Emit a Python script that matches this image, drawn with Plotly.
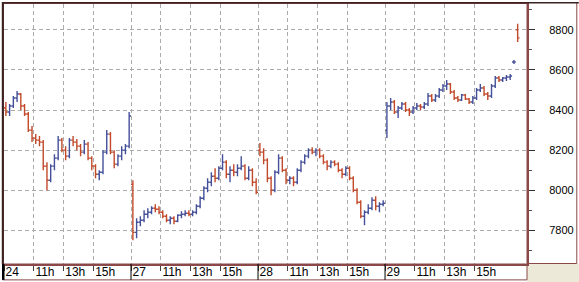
import plotly.graph_objects as go

# ---------------- data (15-minute bars, sessions start 9:00) ----------------
day_labels = ["24", "27", "28", "29"]
hour_labels = ["11h", "13h", "15h"]
bars_in_day = [34, 34, 34, 36]
session_hours = 8.5
bar_hours = 0.25

opens = [
    # 24
    8410, 8390, 8420, 8460, 8480, 8420, 8380, 8300, 8260, 8250, 8240, 8120, 8050, 8120, 8160, 8250, 8200,
    8170, 8250, 8240, 8220, 8190, 8230, 8160, 8120, 8080, 8090, 8190, 8280, 8190, 8130, 8170, 8200, 8220,
    # 27
    8030, 7790, 7840, 7850, 7880, 7890, 7910, 7905, 7890, 7870, 7850, 7860, 7845, 7875, 7880, 7885, 7880,
    7890, 7920, 7960, 8010, 8040, 8070, 8060, 8110, 8140, 8080, 8100, 8090, 8110, 8120, 8060, 8100, 8040,
    # 28
    8200, 8190, 8150, 8060, 8000, 8090, 8160, 8100, 8050, 8060, 8040, 8100, 8140, 8170, 8200, 8190, 8200,
    8170, 8140, 8120, 8140, 8130, 8100, 8080, 8110, 8060, 8000, 7940, 7870, 7890, 7910, 7950, 7920, 7930,
    # 29
    8300, 8420, 8440, 8390, 8410, 8430, 8400, 8390, 8410, 8420, 8415, 8430, 8470, 8450, 8470, 8500, 8520,
    8530, 8490, 8460, 8450, 8475, 8455, 8440, 8460, 8500, 8510, 8480, 8470, 8520, 8560, 8550, 8560, 8565,
    8640, 8800,
]
highs = [
    8440, 8430, 8470, 8495, 8485, 8430, 8390, 8320, 8280, 8270, 8250, 8140, 8130, 8180, 8270, 8260, 8220,
    8260, 8270, 8255, 8230, 8250, 8240, 8170, 8130, 8100, 8200, 8300, 8290, 8200, 8180, 8220, 8230, 8390,
    8050, 7860, 7870, 7900, 7910, 7920, 7930, 7920, 7900, 7880, 7870, 7870, 7880, 7895, 7900, 7900, 7900,
    7930, 7970, 8020, 8060, 8090, 8110, 8120, 8180, 8150, 8120, 8130, 8130, 8170, 8130, 8120, 8110, 8060,
    8235, 8210, 8160, 8070, 8100, 8180, 8170, 8110, 8070, 8070, 8110, 8150, 8180, 8210, 8215, 8210, 8210,
    8180, 8150, 8150, 8150, 8140, 8110, 8120, 8120, 8070, 8010, 7950, 7900, 7930, 7965, 7970, 7940, 7950,
    8440, 8460, 8450, 8420, 8440, 8440, 8410, 8420, 8435, 8430, 8440, 8485, 8480, 8480, 8510, 8530, 8550,
    8535, 8500, 8470, 8480, 8480, 8460, 8470, 8510, 8530, 8520, 8490, 8530, 8570, 8570, 8565, 8575, 8580,
    8650, 8830,
]
lows = [
    8370, 8370, 8410, 8440, 8400, 8370, 8290, 8240, 8230, 8220, 8100, 8000, 8040, 8100, 8150, 8190, 8150,
    8160, 8220, 8200, 8170, 8180, 8150, 8100, 8060, 8050, 8080, 8180, 8180, 8110, 8120, 8150, 8180, 8210,
    7750, 7760, 7820, 7840, 7860, 7880, 7890, 7880, 7860, 7840, 7830, 7830, 7840, 7860, 7870, 7870, 7870,
    7880, 7910, 7950, 7990, 8020, 8040, 8050, 8100, 8060, 8040, 8070, 8070, 8100, 8050, 8050, 8020, 7980,
    8170, 8130, 8040, 7975, 7990, 8080, 8090, 8030, 8030, 8020, 8030, 8090, 8130, 8160, 8180, 8170, 8160,
    8130, 8100, 8110, 8120, 8090, 8060, 8070, 8050, 7990, 7930, 7860, 7825, 7880, 7900, 7900, 7890, 7920,
    8260, 8400, 8380, 8360, 8400, 8390, 8370, 8380, 8400, 8400, 8405, 8420, 8440, 8440, 8460, 8490, 8500,
    8480, 8450, 8440, 8445, 8450, 8430, 8430, 8450, 8490, 8470, 8450, 8460, 8510, 8540, 8540, 8545, 8550,
    8630, 8740,
]
closes = [
    8390, 8420, 8460, 8480, 8420, 8380, 8300, 8260, 8250, 8240, 8120, 8050, 8120, 8160, 8250, 8200, 8170,
    8250, 8240, 8220, 8190, 8230, 8160, 8120, 8080, 8090, 8190, 8280, 8190, 8130, 8170, 8200, 8220, 8370,
    7790, 7840, 7850, 7880, 7890, 7910, 7905, 7890, 7870, 7850, 7860, 7845, 7875, 7880, 7885, 7880, 7890,
    7920, 7960, 8010, 8040, 8070, 8060, 8110, 8140, 8080, 8100, 8090, 8110, 8120, 8060, 8100, 8040, 7990,
    8190, 8150, 8060, 8000, 8090, 8160, 8100, 8050, 8060, 8040, 8100, 8140, 8170, 8200, 8190, 8200, 8170,
    8140, 8120, 8140, 8130, 8100, 8080, 8110, 8060, 8000, 7940, 7870, 7890, 7910, 7950, 7920, 7930, 7935,
    8420, 8440, 8390, 8410, 8430, 8400, 8390, 8410, 8420, 8415, 8430, 8470, 8450, 8470, 8500, 8520, 8530,
    8490, 8460, 8450, 8475, 8455, 8440, 8460, 8500, 8510, 8480, 8470, 8520, 8560, 8550, 8560, 8565, 8570,
    8640, 8760,
]

# ---------------- positions on a trading-time axis ----------------
xs = []
for d, n in enumerate(bars_in_day):
    for slot in range(n):
        xs.append(d * session_hours + (slot + 0.5) * bar_hours)

tickvals, ticktext = [], []
for d, lab in enumerate(day_labels):
    tickvals.append(d * session_hours)
    ticktext.append(lab)
    for k, h in enumerate(hour_labels):
        tickvals.append(d * session_hours + 2 * (k + 1))
        ticktext.append(h)

BROWN = "#8A4848"
GRID = "#ABABAB"

fig = go.Figure()
fig.add_trace(go.Ohlc(
    x=xs, open=opens, high=highs, low=lows, close=closes,
    increasing=dict(line=dict(color="#45509A", width=1.4)),
    decreasing=dict(line=dict(color="#C24A2A", width=1.4)),
    tickwidth=0.5, showlegend=False, hoverinfo="skip",
))

W, H = 579, 282
ml, mr, mt, mb = 2, 52, 2, 18
pw, ph = W - ml - mr, H - mt - mb


def px_x(px):
    return (px - ml) / pw


def px_y(py):
    return (H - mb - py) / ph


shapes = [
    dict(type="rect", xref="paper", yref="paper", x0=px_x(527), x1=px_x(580), y0=px_y(283), y1=px_y(263.5),
         fillcolor="#ECE9D8", line=dict(width=0), layer="below"),
    dict(type="rect", xref="paper", yref="paper", x0=px_x(527), x1=px_x(577), y0=px_y(263.5), y1=px_y(0.5),
         line=dict(color=BROWN, width=1), fillcolor="rgba(0,0,0,0)"),
    dict(type="rect", xref="paper", yref="paper", x0=px_x(0.5), x1=px_x(527), y0=px_y(280), y1=px_y(264),
         line=dict(color=BROWN, width=1), fillcolor="rgba(0,0,0,0)"),
    dict(type="rect", xref="paper", yref="paper", x0=px_x(0), x1=px_x(2.5), y0=px_y(280), y1=px_y(264),
         fillcolor="black", line=dict(width=0)),
    dict(type="line", xref="paper", yref="paper", x0=px_x(0.8), x1=px_x(0.8), y0=px_y(264), y1=px_y(0),
         line=dict(color="#3A2222", width=2)),
    dict(type="line", xref="paper", yref="paper", x0=px_x(0), x1=px_x(579), y0=px_y(0.8), y1=px_y(0.8),
         line=dict(color="#3A2222", width=1.5)),
]
for d in range(1, len(day_labels)):
    shapes.append(dict(type="line", xref="x", yref="paper", x0=d * session_hours, x1=d * session_hours,
                       y0=px_y(280), y1=px_y(264), line=dict(color="black", width=1)))

fig.update_layout(
    width=W, height=H,
    margin=dict(l=ml, r=mr, t=mt, b=mb, pad=0),
    paper_bgcolor="white", plot_bgcolor="white",
    font=dict(family="Arial, Liberation Sans", color="black"),
    shapes=shapes,
    xaxis=dict(
        range=[0, 35.0], rangeslider=dict(visible=False),
        tickmode="array", tickvals=tickvals, ticktext=ticktext,
        ticks="outside", ticklen=5, tickcolor="#404040", tickwidth=1,
        ticklabelposition="outside right", ticklabelstandoff=-4,
        tickfont=dict(size=12, family="Arial, Liberation Sans", color="black"),
        showgrid=True, gridcolor=GRID, griddash="4px,3px", gridwidth=1,
        showline=True, linecolor=BROWN, linewidth=2, mirror=True,
        zeroline=False, fixedrange=True,
    ),
    yaxis=dict(
        side="right", range=[7632, 8929],
        tick0=0, dtick=200,
        ticks="outside", ticklen=6, tickcolor="#303030", tickwidth=1,
        ticklabelstandoff=12,
        tickfont=dict(size=11, family="Arial, Liberation Sans", color="black"),
        minor=dict(dtick=100, ticks="outside", ticklen=3, tickcolor="#505050", showgrid=False),
        showgrid=True, gridcolor=GRID, griddash="4px,3px", gridwidth=1,
        showline=True, linecolor=BROWN, linewidth=2, mirror=True,
        zeroline=False, fixedrange=True,
    ),
)

fig.write_html("out.html")
